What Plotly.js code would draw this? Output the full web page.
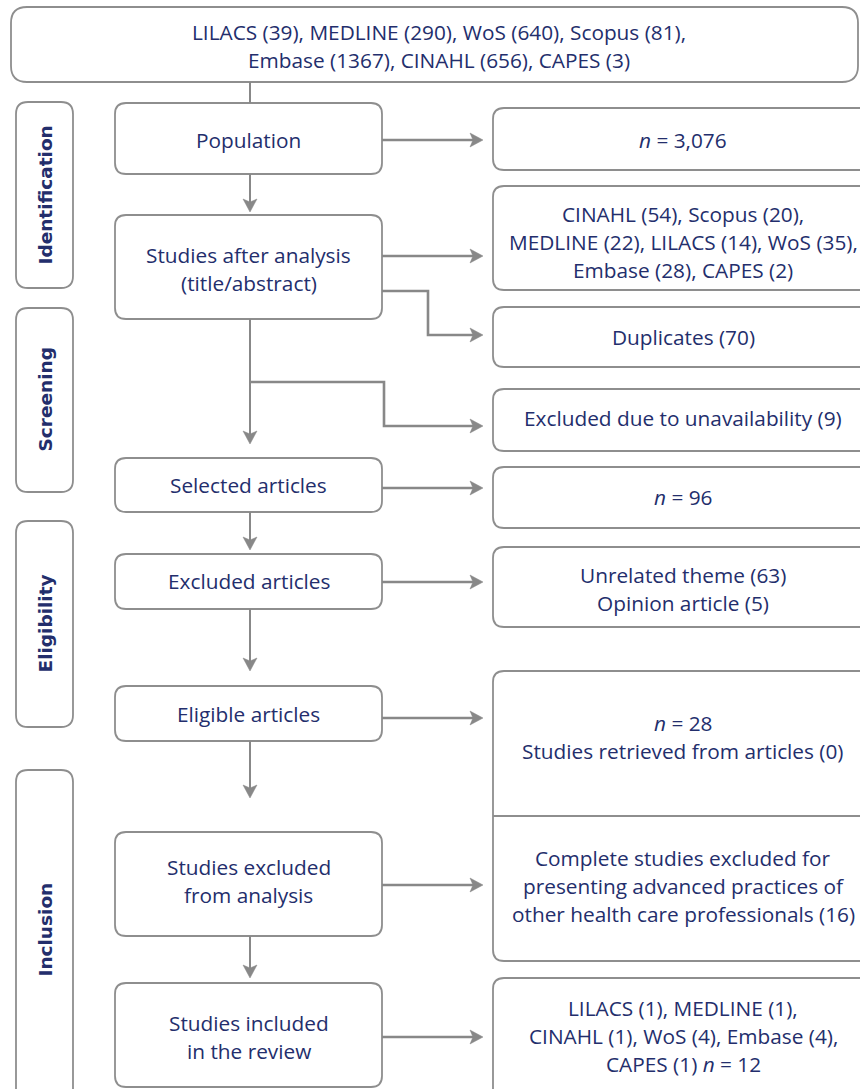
<!DOCTYPE html>
<html>
<head>
<meta charset="utf-8">
<script src="https://cdn.plot.ly/plotly-3.0.1.min.js"></script>
<style>html,body{margin:0;padding:0;background:#fff;}#chart{width:860px;height:1089px;}</style>
</head>
<body>
<div id="chart"></div>
<script>
// ---------- DATA (texts / values) ----------
const sourceLines = ["LILACS (39), MEDLINE (290), WoS (640), Scopus (81),", "Embase (1367), CINAHL (656), CAPES (3)"];
const stageLabels = ["Identification", "Screening", "Eligibility", "Inclusion"];
const stepLabels = [
  ["Population"],
  ["Studies after analysis", "(title/abstract)"],
  ["Selected articles"],
  ["Excluded articles"],
  ["Eligible articles"],
  ["Studies excluded", "from analysis"],
  ["Studies included", "in the review"]
];
const outcomeLabels = [
  ["<i>n</i> = 3,076"],
  ["CINAHL (54), Scopus (20),", "MEDLINE (22), LILACS (14), WoS (35),", "Embase (28), CAPES (2)"],
  ["Duplicates (70)"],
  ["Excluded due to unavailability (9)"],
  ["<i>n</i> = 96"],
  ["Unrelated theme (63)", "Opinion article (5)"],
  ["<i>n</i> = 28", "Studies retrieved from articles (0)"],
  ["Complete studies excluded for", "presenting advanced practices of", "other health care professionals (16)"],
  ["LILACS (1), MEDLINE (1),", "CINAHL (1), WoS (4), Embase (4),", "CAPES (1) <i>n</i> = 12"]
];

// ---------- LAYOUT GEOMETRY (pixels in axis units) ----------
const TEXT = "#232e6c", BORDER = "#8e8e8e", LINE = "#888888";
const FONT = "Open Sans, sans-serif";
const FS = 20.8, LH = 28;
const topBox = {x0: 11, x1: 858, y0: 7, y1: 82, r: 16, tx: 439, ty: 46};
const stageBoxes = [
  {y0: 102, y1: 288, ty: 195},
  {y0: 308, y1: 492, ty: 400},
  {y0: 521, y1: 727, ty: 624},
  {y0: 770, y1: 1110, ty: 930}
];
const stageX0 = 16, stageX1 = 73, stageR = 12;
const stepX0 = 115, stepX1 = 382, stepR = 11;
const stepBoxes = [
  {y0: 103, y1: 174, ty: 140},
  {y0: 215, y1: 319, ty: 269},
  {y0: 458, y1: 512, ty: 485},
  {y0: 554, y1: 609, ty: 581},
  {y0: 686, y1: 741, ty: 714},
  {y0: 832, y1: 936, ty: 880.5},
  {y0: 983, y1: 1087, ty: 1037}
];
const outX0 = 493, outX1 = 873, outR = 11, outTX = 683;
const outBoxes = [
  {y0: 108, y1: 170, ty: 140},
  {y0: 186, y1: 290, ty: 241.5},
  {y0: 307, y1: 367, ty: 337},
  {y0: 389, y1: 451, ty: 418},
  {y0: 467, y1: 528, ty: 497},
  {y0: 547, y1: 627, ty: 589},
  null,
  null,
  {y0: 978, y1: 1120, ty: 1036}
];
const splitBox = {y0: 671, y1: 961, mid: 816, ty: [737, 886]};
const connectors = [
  {pts: [[250, 82], [250, 103]], arrow: null},
  {pts: [[250, 174], [250, 212]], arrow: "down"},
  {pts: [[382, 140], [483, 140]], arrow: "right"},
  {pts: [[382, 256], [483, 256]], arrow: "right"},
  {pts: [[382, 291], [428, 291], [428, 335], [483, 335]], arrow: "right"},
  {pts: [[250, 319], [250, 444]], arrow: "down"},
  {pts: [[250, 382], [384, 382], [384, 426], [483, 426]], arrow: "right"},
  {pts: [[382, 488], [483, 488]], arrow: "right"},
  {pts: [[250, 512], [250, 550]], arrow: "down"},
  {pts: [[382, 582], [483, 582]], arrow: "right"},
  {pts: [[250, 609], [250, 671]], arrow: "down"},
  {pts: [[382, 718], [483, 718]], arrow: "right"},
  {pts: [[250, 741], [250, 798]], arrow: "down"},
  {pts: [[382, 885], [483, 885]], arrow: "right"},
  {pts: [[250, 936], [250, 978]], arrow: "down"},
  {pts: [[382, 1037], [483, 1037]], arrow: "right"}
];

// ---------- BUILD ----------
function rrect(x0, y0, x1, y1, r) {
  return `M${x0 + r},${y0} H${x1 - r} Q${x1},${y0} ${x1},${y0 + r} V${y1 - r} Q${x1},${y1} ${x1 - r},${y1} H${x0 + r} Q${x0},${y1} ${x0},${y1 - r} V${y0 + r} Q${x0},${y0} ${x0 + r},${y0} Z`;
}
const shapes = [];
const annotations = [];
function box(x0, y0, x1, y1, r) {
  shapes.push({type: "path", xref: "x", yref: "y", path: rrect(x0, y0, x1, y1, r),
    line: {color: BORDER, width: 1.8}, fillcolor: "rgba(0,0,0,0)", layer: "above"});
}
function textLines(lines, cx, cy) {
  const n = lines.length;
  lines.forEach((t, i) => {
    annotations.push({xref: "x", yref: "y", x: cx, y: cy + (i - (n - 1) / 2) * LH,
      text: t, showarrow: false, xanchor: "center", yanchor: "middle",
      font: {family: FONT, size: FS, color: TEXT}});
  });
}
box(topBox.x0, topBox.y0, topBox.x1, topBox.y1, topBox.r);
textLines(sourceLines, topBox.tx, topBox.ty);
stageLabels.forEach((s, i) => {
  const b = stageBoxes[i];
  box(stageX0, b.y0, stageX1, b.y1, stageR);
  annotations.push({xref: "x", yref: "y", x: (stageX0 + stageX1) / 2, y: b.ty, text: "<b>" + s + "</b>",
    showarrow: false, textangle: -90, xanchor: "center", yanchor: "middle",
    font: {family: "DejaVu Sans, sans-serif", size: 18.5, color: TEXT}});
});
stepLabels.forEach((lines, i) => {
  const b = stepBoxes[i];
  box(stepX0, b.y0, stepX1, b.y1, stepR);
  textLines(lines, (stepX0 + stepX1) / 2, b.ty);
});
outcomeLabels.forEach((lines, i) => {
  const b = outBoxes[i];
  if (b) {
    box(outX0, b.y0, outX1, b.y1, outR);
    textLines(lines, outTX, b.ty);
  }
});
box(outX0, splitBox.y0, outX1, splitBox.y1, outR);
shapes.push({type: "line", xref: "x", yref: "y", x0: outX0, x1: outX1, y0: splitBox.mid, y1: splitBox.mid,
  line: {color: BORDER, width: 1.8}});
textLines(outcomeLabels[6], outTX, splitBox.ty[0]);
textLines(outcomeLabels[7], outTX, splitBox.ty[1]);
connectors.forEach(c => {
  const pts = c.pts.slice();
  const last = pts[pts.length - 1];
  const L = 13, W = 7, N = 3;
  let endPt = last;
  if (c.arrow === "right") endPt = [last[0] - L + N, last[1]];
  if (c.arrow === "down") endPt = [last[0], last[1] - L + N];
  const linePts = pts.slice(0, -1).concat([endPt]);
  const path = "M" + linePts.map(p => p[0] + "," + p[1]).join(" L");
  shapes.push({type: "path", xref: "x", yref: "y", path: path,
    line: {color: LINE, width: (c.arrow === "down" || c.arrow === null) ? 2 : 2.6}, fillcolor: "rgba(0,0,0,0)"});
  const [x, y] = last;
  if (c.arrow === "right") {
    shapes.push({type: "path", xref: "x", yref: "y",
      path: `M${x},${y} L${x - L},${y - W} L${x - L + N},${y} L${x - L},${y + W} Z`,
      line: {color: LINE, width: 0.5}, fillcolor: LINE});
  } else if (c.arrow === "down") {
    shapes.push({type: "path", xref: "x", yref: "y",
      path: `M${x},${y} L${x - W},${y - L} L${x},${y - L + N} L${x + W},${y - L} Z`,
      line: {color: LINE, width: 0.5}, fillcolor: LINE});
  }
});

const layout = {
  width: 860, height: 1089,
  margin: {l: 0, r: 0, t: 0, b: 0},
  paper_bgcolor: "#ffffff", plot_bgcolor: "#ffffff",
  xaxis: {range: [0, 860], visible: false, fixedrange: true},
  yaxis: {range: [1089, 0], visible: false, fixedrange: true},
  showlegend: false,
  shapes: shapes,
  annotations: annotations
};
Plotly.newPlot("chart", [{x: [], y: [], type: "scatter", mode: "markers", hoverinfo: "skip"}], layout,
  {staticPlot: true, displayModeBar: false});
</script>
</body>
</html>
